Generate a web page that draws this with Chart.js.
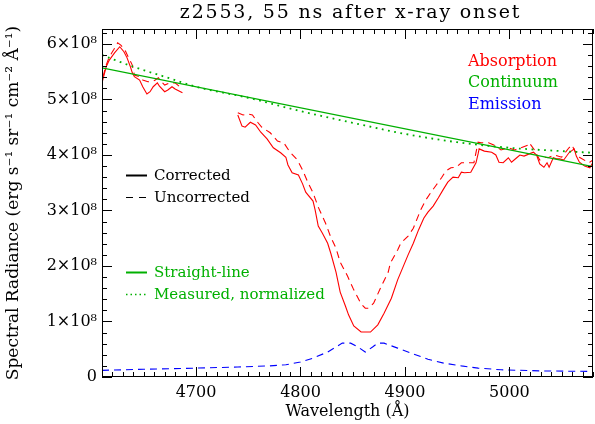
<!DOCTYPE html>
<html>
<head>
<meta charset="utf-8">
<script src="https://cdn.jsdelivr.net/npm/chart.js@4/dist/chart.umd.min.js"></script>
<style>
  body { margin: 0; background: #fff; }
</style>
</head>
<body>
<canvas id="spec" width="595" height="424"></canvas>
<script>
// flux values are in units of 1e8 erg s^-1 sr^-1 cm^-2 A^-1
const corrWave = [4610, 4614, 4617, 4622, 4627, 4631, 4634, 4637, 4639, 4641, 4646, 4649, 4653, 4656, 4659, 4663, 4665, 4670, 4673, 4677, 4680, 4687,
  4713,
  4740, 4744, 4747, 4752, 4757, 4762, 4768, 4774, 4781, 4786, 4788, 4792, 4798, 4802, 4805, 4812, 4814, 4817, 4821, 4826, 4829, 4834, 4838, 4843,
  4846, 4851, 4858, 4867, 4874, 4880, 4887, 4893, 4899, 4903, 4908, 4913, 4918, 4922, 4927, 4932, 4937, 4941, 4946, 4951, 4954, 4957, 4963, 4968,
  4970, 4971, 4976, 4983, 4987, 4990, 4994, 4999, 5002, 5007, 5010, 5014, 5019, 5023, 5026, 5029, 5033, 5036, 5038, 5042, 5045, 5048, 5052, 5057,
  5062, 5064, 5067, 5072, 5077, 5080];
const corrFlux = [5.30, 5.59, 5.71, 5.84, 5.95, 5.86, 5.75, 5.60, 5.48, 5.41, 5.35, 5.23, 5.10, 5.14, 5.23, 5.30, 5.24, 5.14, 5.17, 5.23, 5.19, 5.12,
  null,
  4.72, 4.52, 4.50, 4.59, 4.54, 4.41, 4.29, 4.13, 4.04, 3.96, 3.82, 3.68, 3.64, 3.48, 3.33, 3.17, 3.01, 2.72, 2.59, 2.41, 2.23, 1.89, 1.53, 1.28,
  1.12, 0.92, 0.81, 0.81, 0.94, 1.15, 1.42, 1.75, 2.02, 2.20, 2.41, 2.65, 2.86, 2.97, 3.08, 3.23, 3.39, 3.51, 3.60, 3.59, 3.69, 3.68, 3.69, 3.86,
  4.02, 4.11, 4.07, 4.05, 4.00, 3.87, 3.86, 3.95, 3.87, 3.95, 4.00, 3.98, 4.02, 4.05, 4.00, 3.84, 3.78, 3.86, 3.78, 3.95, 3.93, 3.93, 3.91, 4.04,
  4.11, 3.98, 3.87, 3.80, 3.77, 3.87];

const uncorrWave = [4611, 4614, 4617, 4621, 4625, 4628, 4632, 4635, 4639, 4641, 4646, 4649, 4654, 4658, 4661, 4664, 4668, 4670, 4675, 4680, 4687,
  4713,
  4740, 4745, 4749, 4754, 4759, 4763, 4771, 4778, 4784, 4790, 4797, 4802, 4807, 4812, 4817, 4824, 4829, 4834, 4838, 4845, 4851, 4858, 4862, 4865,
  4870, 4877, 4884, 4886, 4893, 4896, 4903, 4908, 4915, 4920, 4925, 4930, 4935, 4939, 4944, 4949, 4954, 4961, 4966, 4970, 4973, 4980, 4985, 4989,
  4992, 4999, 5005, 5011, 5018, 5019, 5024, 5029, 5034, 5037, 5043, 5050, 5057, 5060, 5062, 5067, 5076, 5080];
const uncorrFlux = [5.41, 5.62, 5.77, 5.89, 6.02, 5.98, 5.89, 5.77, 5.62, 5.44, 5.41, 5.35, 5.32, 5.32, 5.35, 5.39, 5.30, 5.26, 5.30, 5.30, 5.19,
  null,
  4.76, 4.72, 4.74, 4.72, 4.59, 4.50, 4.40, 4.25, 4.22, 4.05, 3.91, 3.73, 3.51, 3.32, 3.06, 2.77, 2.52, 2.32, 2.07, 1.82, 1.57, 1.32, 1.24, 1.24,
  1.33, 1.62, 1.89, 2.05, 2.29, 2.41, 2.54, 2.68, 3.01, 3.19, 3.33, 3.46, 3.59, 3.71, 3.77, 3.78, 3.86, 3.86, 3.86, 4.23, 4.22, 4.22, 4.18, 4.13,
  4.09, 4.13, 4.09, 4.13, 4.18, 4.22, 4.09, 3.91, 3.96, 3.95, 4.00, 3.96, 4.13, 4.18, 4.09, 3.96, 3.86, 3.91];

const emisWave = [4610, 4650, 4700, 4740, 4770, 4786, 4800, 4812, 4826, 4840, 4848, 4855, 4862, 4869, 4874, 4880, 4893, 4906, 4922, 4937, 4954, 4970, 4992, 5030, 5080];
const emisFlux = [0.12, 0.14, 0.16, 0.18, 0.20, 0.22, 0.27, 0.34, 0.45, 0.61, 0.61, 0.54, 0.45, 0.54, 0.61, 0.61, 0.52, 0.43, 0.32, 0.25, 0.20, 0.16, 0.13, 0.11, 0.10];

const lineWave = [4610, 5080];
const lineFlux = [5.57, 3.79];

const measWave = [4610, 4640, 4670, 4700, 4750, 4800, 4850, 4900, 4950, 5000, 5050, 5080];
const measFlux = [5.80, 5.59, 5.41, 5.23, 5.03, 4.79, 4.58, 4.38, 4.23, 4.13, 4.07, 4.04];

const yTicks = [0, 1, 2, 3, 4, 5, 6];

const RED = "#ff0000";
const GREEN = "#00b000";
const BLUE = "#0000ff";
const SERIF = '"DejaVu Serif", serif';

function pts(xs, ys) {
    return xs.map((x, i) => ({ x: x, y: ys[i] }));
}

const decor = {
    id: "decor",
    afterDraw(chart) {
        const ctx = chart.ctx;
        const a = chart.chartArea;
        const xs = chart.scales.x;
        const ys = chart.scales.y;
        ctx.save();
        ctx.strokeStyle = "#000";
        ctx.lineWidth = 1;
        ctx.strokeRect(a.left + 0.5, a.top + 0.5, a.right - a.left - 1, a.bottom - a.top - 1);

        // inward ticks on all four sides
        ctx.beginPath();
        for (let w = 4610; w <= 5080; w += 10) {
            const px = Math.round(xs.getPixelForValue(w)) + 0.5;
            const len = w % 100 === 0 ? 10 : 5;
            ctx.moveTo(px, a.bottom); ctx.lineTo(px, a.bottom - len);
            ctx.moveTo(px, a.top); ctx.lineTo(px, a.top + len);
        }
        for (let k = 0; k <= 31; k++) {
            const py = Math.round(ys.getPixelForValue(k * 0.2)) + 0.5;
            const len = k % 5 === 0 ? 10 : 5;
            ctx.moveTo(a.left, py); ctx.lineTo(a.left + len, py);
            ctx.moveTo(a.right, py); ctx.lineTo(a.right - len, py);
        }
        ctx.stroke();

        // title
        ctx.fillStyle = "#000";
        ctx.textAlign = "center";
        ctx.textBaseline = "middle";
        ctx.font = "19px " + SERIF;
        ctx.letterSpacing = "1.8px";
        ctx.fillText("z2553, 55 ns after x-ray onset", (a.left + a.right) / 2 + 3, 13);
        ctx.letterSpacing = "0px";

        // right-hand labels
        ctx.textAlign = "left";
        ctx.font = "16px " + SERIF;
        ctx.fillStyle = RED;
        ctx.fillText("Absorption", 468, 62);
        ctx.fillStyle = GREEN;
        ctx.fillText("Continuum", 468, 83);
        ctx.fillStyle = BLUE;
        ctx.fillText("Emission", 468, 105);

        // line style keys
        ctx.font = "15px " + SERIF;
        const keys = [
            { y: 175, text: "Corrected", color: "#000", dash: [], lw: 2 },
            { y: 197, text: "Uncorrected", color: "#000", dash: [7, 6], lw: 1 },
            { y: 272, text: "Straight-line", color: GREEN, dash: [], lw: 2 },
            { y: 294, text: "Measured, normalized", color: GREEN, dash: [1.5, 3], lw: 1.5 }
        ];
        keys.forEach((k) => {
            ctx.beginPath();
            ctx.setLineDash(k.dash);
            ctx.strokeStyle = k.color;
            ctx.lineWidth = k.lw;
            ctx.moveTo(126, k.y + 0.5);
            ctx.lineTo(147, k.y + 0.5);
            ctx.stroke();
            ctx.fillStyle = k.color;
            ctx.fillText(k.text, 154, k.y + 1);
        });
        ctx.restore();
    }
};

new Chart(document.getElementById("spec"), {
    type: "line",
    plugins: [decor],
    data: {
        datasets: [
            {
                label: "Straight-line",
                data: pts(lineWave, lineFlux),
                borderColor: GREEN,
                borderWidth: 1.3,
            },
            {
                label: "Measured, normalized",
                data: pts(measWave, measFlux),
                borderColor: GREEN,
                borderWidth: 1.8,
                borderDash: [1.8, 4.5],
                cubicInterpolationMode: "monotone",
            },
            {
                label: "Corrected",
                data: pts(corrWave, corrFlux),
                borderColor: RED,
                borderWidth: 1.1,
            },
            {
                label: "Uncorrected",
                data: pts(uncorrWave, uncorrFlux),
                borderColor: RED,
                borderWidth: 1.1,
                borderDash: [7, 5],
            },
            {
                label: "Emission",
                data: pts(emisWave, emisFlux),
                borderColor: BLUE,
                borderWidth: 1.1,
                borderDash: [7, 5],
            },
        ],
    },
    options: {
        responsive: false,
        animation: false,
        spanGaps: false,
        elements: {
            point: { radius: 0 },
            line: { tension: 0, fill: false },
        },
        layout: { padding: { top: 29, right: 2, left: 0, bottom: 0 } },
        plugins: {
            legend: { display: false },
            title: { display: false },
            tooltip: { enabled: false },
        },
        scales: {
            x: {
                type: "linear",
                min: 4610,
                max: 5080,
                grid: { display: false, drawTicks: false },
                border: { display: false },
                ticks: {
                    stepSize: 100,
                    includeBounds: false,
                    padding: 6,
                    color: "#000",
                    font: { family: SERIF, size: 16 },
                    callback: (v) => String(v),
                },
                title: {
                    display: true,
                    text: "Wavelength (Å)",
                    color: "#000",
                    font: { family: SERIF, size: 16 },
                    padding: { top: 0, bottom: 3 },
                },
                afterFit: (s) => { s.height = 47; },
            },
            y: {
                min: 0,
                max: 6.27,
                grid: { display: false, drawTicks: false },
                border: { display: false },
                afterBuildTicks: (s) => { s.ticks = yTicks.map((v) => ({ value: v })); },
                ticks: {
                    padding: 5,
                    color: "#000",
                    font: { family: SERIF, size: 16 },
                    callback: (v) => (v === 0 ? "0" : v + "×10⁸"),
                },
                title: {
                    display: true,
                    text: "Spectral Radiance (erg s⁻¹ sr⁻¹ cm⁻² Å⁻¹)",
                    color: "#000",
                    font: { family: SERIF, size: 17 },
                    padding: { top: 3, bottom: 0 },
                },
                afterFit: (s) => { s.width = 102; },
            },
        },
    },
});
</script>
</body>
</html>
